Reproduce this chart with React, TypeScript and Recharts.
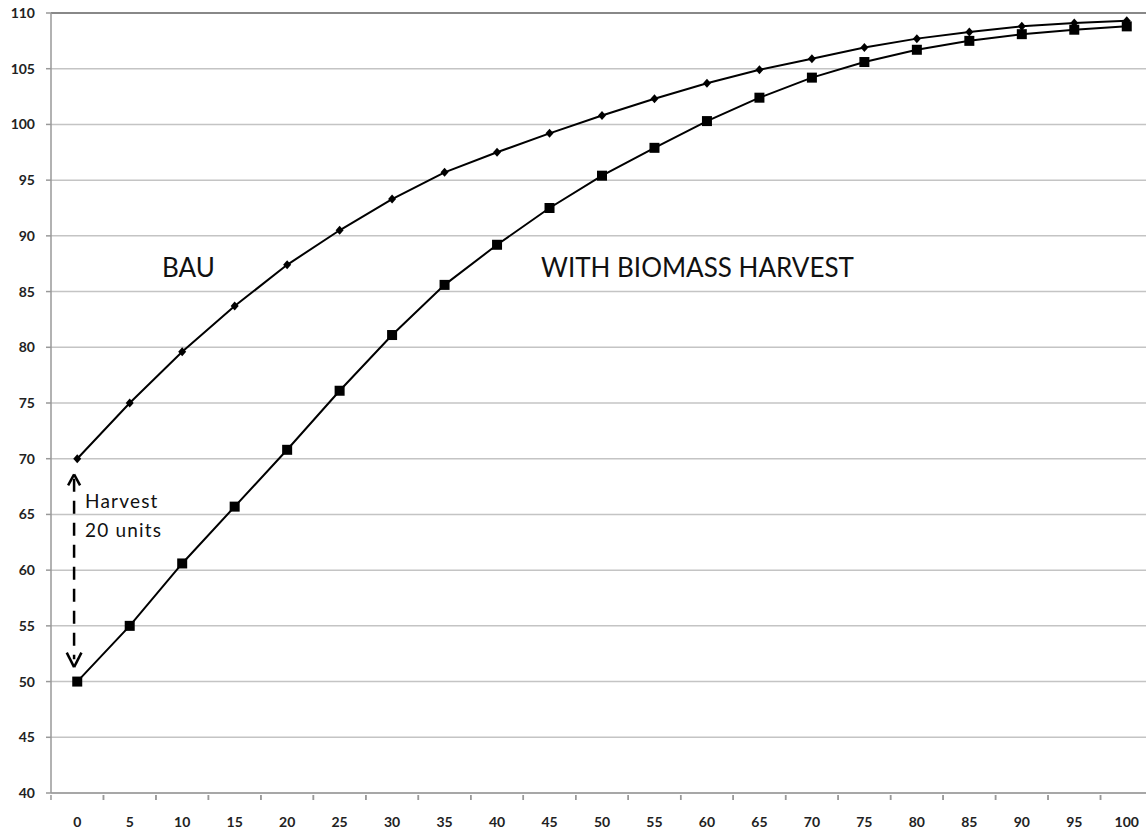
import { CartesianGrid, Line, LineChart, ReferenceLine, XAxis, YAxis } from "recharts";

const years = [0, 5, 10, 15, 20, 25, 30, 35, 40, 45, 50, 55, 60, 65, 70, 75, 80, 85, 90, 95, 100];
const bau = [70, 75, 79.6, 83.7, 87.4, 90.5, 93.3, 95.7, 97.5, 99.2, 100.8, 102.3, 103.7, 104.9, 105.9, 106.9, 107.7, 108.3, 108.8, 109.1, 109.3];
const harvest = [50, 55, 60.6, 65.7, 70.8, 76.1, 81.1, 85.6, 89.2, 92.5, 95.4, 97.9, 100.3, 102.4, 104.2, 105.6, 106.7, 107.5, 108.1, 108.5, 108.8];
const yTicks = [40, 45, 50, 55, 60, 65, 70, 75, 80, 85, 90, 95, 100, 105, 110];

const data = years.map((year, i) => ({ year, bau: bau[i], harvest: harvest[i] }));

const FONT = "Lato, 'Open Sans', sans-serif";
const HALF_STEP = 26.25;

function Diamond(props: any) {
  const { cx, cy, index } = props;
  if (cx == null || cy == null) return null;
  return (
    <polygon
      key={`d-${index}`}
      points={`${cx},${cy - 4.5} ${cx + 4},${cy} ${cx},${cy + 4.5} ${cx - 4},${cy}`}
      fill="#000"
    />
  );
}

function Square(props: any) {
  const { cx, cy, index } = props;
  if (cx == null || cy == null) return null;
  return <rect key={`s-${index}`} x={cx - 5} y={cy - 5} width={10} height={10} fill="#000" />;
}

function XTick(props: any) {
  const { x, y, payload } = props;
  return (
    <g>
      <line x1={x - HALF_STEP} x2={x - HALF_STEP} y1={y - 6} y2={y - 1} stroke="#999" strokeWidth={1.5} />
      <line x1={x + HALF_STEP} x2={x + HALF_STEP} y1={y - 6} y2={y - 1} stroke="#999" strokeWidth={1.5} />
      <text x={x} y={y + 26} textAnchor="middle" fill="#222" fontSize={14} fontWeight={700} fontFamily={FONT}>
        {payload.value}
      </text>
    </g>
  );
}

const arrow = { stroke: "#000", strokeWidth: 2.5 };

export default function App() {
  return (
    <div style={{ position: "relative", width: 1146, height: 834, overflow: "hidden", background: "#fff" }}>
      <style>{"body{margin:0}"}</style>
      <LineChart
        width={1160}
        height={834}
        data={data}
        margin={{ top: 13, right: 7, bottom: 0, left: 0 }}
      >
        <CartesianGrid vertical={false} stroke="#c4c4c4" strokeWidth={1.5} />
        <XAxis
          dataKey="year"
          type="number"
          domain={[-2.5, 102.5]}
          ticks={years}
          height={41}
          axisLine={{ stroke: "#999", strokeWidth: 1.5 }}
          tickLine={false}
          tick={<XTick />}
          interval={0}
        />
        <YAxis
          domain={[40, 110]}
          ticks={yTicks}
          width={51}
          axisLine={{ stroke: "#999", strokeWidth: 1.5 }}
          tickLine={{ stroke: "#999", strokeWidth: 1.5 }}
          tickSize={5}
          tickMargin={11}
          interval={0}
          tick={{ fill: "#222", fontSize: 14, fontWeight: 700, fontFamily: FONT }}
        />
        <ReferenceLine y={110} stroke="#888" strokeWidth={2} />
        <ReferenceLine
          segment={[{ x: -0.3, y: 68.2 }, { x: -0.3, y: 52.0 }]}
          stroke="#000"
          strokeWidth={2.5}
          strokeDasharray="13 9"
        />
        <ReferenceLine segment={[{ x: -0.87, y: 67.6 }, { x: -0.3, y: 68.6 }]} {...arrow} />
        <ReferenceLine segment={[{ x: 0.27, y: 67.6 }, { x: -0.3, y: 68.6 }]} {...arrow} />
        <ReferenceLine segment={[{ x: -1.0, y: 52.6 }, { x: -0.3, y: 51.3 }]} {...arrow} />
        <ReferenceLine segment={[{ x: 0.4, y: 52.6 }, { x: -0.3, y: 51.3 }]} {...arrow} />
        <Line
          type="linear"
          dataKey="bau"
          stroke="#000"
          strokeWidth={2}
          dot={Diamond}
          activeDot={false}
          isAnimationActive={false}
        />
        <Line
          type="linear"
          dataKey="harvest"
          stroke="#000"
          strokeWidth={2}
          dot={Square}
          activeDot={false}
          isAnimationActive={false}
        />
      </LineChart>
      <div style={{ position: "absolute", left: 162, top: 251, fontFamily: FONT, fontSize: 26, color: "#111" }}>
        BAU
      </div>
      <div style={{ position: "absolute", left: 541, top: 251, fontFamily: FONT, fontSize: 26, color: "#111" }}>
        WITH BIOMASS HARVEST
      </div>
      <div
        style={{
          position: "absolute",
          left: 85,
          top: 486,
          fontFamily: FONT,
          fontSize: 19,
          letterSpacing: 1.2,
          lineHeight: "29px",
          color: "#111",
        }}
      >
        Harvest
        <br />
        20 units
      </div>
    </div>
  );
}
